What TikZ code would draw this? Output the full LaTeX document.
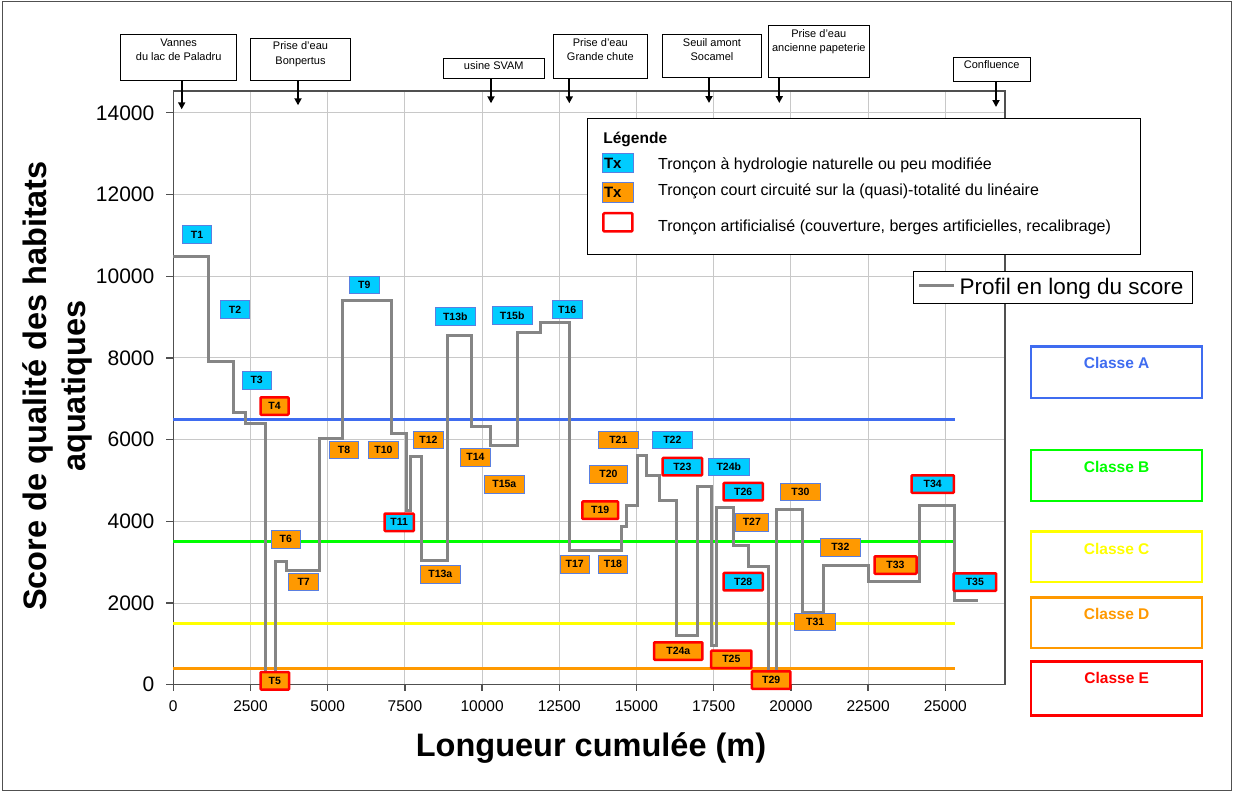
\documentclass[tikz,border=0pt]{standalone}
\usepackage{fontspec}
\setmainfont{Liberation Sans}
\usetikzlibrary{arrows.meta}
\definecolor{cyanT}{HTML}{00CCFF}
\definecolor{orT}{HTML}{FF9900}
\definecolor{bdT}{HTML}{5A7FE0}
\definecolor{grd}{HTML}{C8C8C8}
\definecolor{prof}{HTML}{858585}
\definecolor{axc}{HTML}{505050}
\definecolor{clA}{HTML}{3F6CF0}
\definecolor{clB}{HTML}{00FF00}
\definecolor{clC}{HTML}{FFFF00}
\definecolor{clD}{HTML}{FF9900}
\definecolor{clE}{HTML}{FF0000}
\tikzset{
 gridl/.style={draw=grd, line width=1pt},
 axl/.style={draw=axc, line width=1.3pt},
 clsline/.style={line width=3pt},
 profline/.style={draw=prof, line width=3pt, line join=miter},
 seg/.style={minimum height=17.5pt, inner sep=0pt, font=\fontsize{10.5}{12}\selectfont\bfseries, draw=bdT, line width=0.8pt},
 segC/.style={seg, fill=cyanT},
 segO/.style={seg, fill=orT},
 artif/.style={draw=red, line width=2.5pt, rounded corners=0.8pt},
 annot/.style={draw=black, line width=1pt, inner sep=0pt},
 annotxt/.style={font=\fontsize{11}{14.3}\selectfont, align=center, inner sep=0pt},
 arr/.style={draw=black, line width=2pt, -{Triangle[length=7pt,width=7pt]}},
 clsbox/.style={line width=2.5pt, minimum width=171pt, inner sep=0pt},
 clstxt/.style={font=\fontsize{15.5}{18}\selectfont\bfseries, inner sep=0pt, anchor=north, yshift=-12.3pt},
 ytl/.style={font=\fontsize{21}{24}\selectfont, inner sep=0pt, anchor=east},
 xtl/.style={font=\fontsize{15.5}{18}\selectfont, inner sep=0pt},
 legtxt/.style={font=\fontsize{16}{19}\selectfont, inner sep=0pt, anchor=west},
 legtx/.style={draw=bdT, line width=0.8pt, minimum height=19.4pt, text width=27.4pt, align=left, inner xsep=1.5pt, inner ysep=0pt, font=\fontsize{15}{18}\selectfont\bfseries},
}
\begin{document}
\begin{tikzpicture}[x=1pt,y=-1pt]
\useasboundingbox (0,0) rectangle (1234,792);
\draw[draw=axc, line width=1.5pt] (2.5,1.5) rectangle (1231.5,790.5);
% grid
\foreach \gx in {250.5,327.7,404.9,482.1,559.3,636.5,713.7,790.9,868.1,945.3}
  \draw[gridl] (\gx,91) -- (\gx,684.7);
\foreach \gy in {603,521.3,439.6,357.9,276.2,194.5,112.8}
  \draw[gridl] (173.3,\gy) -- (1005,\gy);
% frame and axes
\draw[axl] (173.3,91) -- (1005,91) -- (1005,684.7);
\draw[axl] (173.3,91) -- (173.3,684.7) -- (1005,684.7);
\foreach \v/\gy in {0/684.7,2000/603,4000/521.3,6000/439.6,8000/357.9,10000/276.2,12000/194.5,14000/112.8}{
  \draw[axl] (166,\gy) -- (173.3,\gy);
  \node[ytl] (yl\v) at (154.5,\gy) {\v};
}
\foreach \v/\gx in {0/173.3,2500/250.5,5000/327.7,7500/404.9,10000/482.1,12500/559.3,15000/636.5,17500/713.7,20000/790.9,22500/868.1,25000/945.3}{
  \draw[axl] (\gx,684.7) -- (\gx,690.5);
  \node[xtl] (xl\v) at (\gx,706.5) {\v};
}
% axis titles
\node[rotate=90, align=center, font=\fontsize{32.5}{39}\selectfont\bfseries] (ytitle) at (57,386) {Score de qualité des habitats\\aquatiques};
\node[font=\fontsize{32.5}{38}\selectfont\bfseries] (xtitle) at (591,748) {Longueur cumulée (m)};
% class lines
\draw[clsline, draw=clA] (173.3,419.2) -- (955,419.2);
\draw[clsline, draw=clB] (173.3,541.7) -- (955,541.7);
\draw[clsline, draw=clC] (173.3,623.4) -- (955,623.4);
\draw[clsline, draw=clD] (173.3,668.4) -- (955,668.4);
% profile
\draw[profline] (173.3,256) -- (208.3,256) -- (208.3,361.7) -- (233.3,361.7) -- (233.3,412) -- (245.3,412) -- (245.3,423.7) -- (265.7,423.7) -- (265.7,676) -- (275.7,676) -- (275.7,561) -- (286.7,561) -- (286.7,570.7) -- (319.3,570.7) -- (319.3,438.3) -- (342.3,438.3) -- (342.3,300.3) -- (391,300.3) -- (391,433) -- (406.7,433) -- (406.7,510) -- (410.5,510) -- (410.5,456.7) -- (421,456.7) -- (421,560.7) -- (447.3,560.7) -- (447.3,335) -- (471.7,335) -- (471.7,426.7) -- (490,426.7) -- (490,445) -- (517.3,445) -- (517.3,332.3) -- (540,332.3) -- (540,322.7) -- (569,322.7) -- (569,550) -- (621.7,550) -- (621.7,526.7) -- (626,526.7) -- (626,505.7) -- (637.3,505.7) -- (637.3,455) -- (646.7,455) -- (646.7,475.7) -- (659,475.7) -- (659,500) -- (676,500) -- (676,635) -- (697.7,635) -- (697.7,486) -- (711.7,486) -- (711.7,645.7) -- (716.7,645.7) -- (716.7,507.7) -- (733.3,507.7) -- (733.3,545) -- (748.3,545) -- (748.3,566.7) -- (768.3,566.7) -- (768.3,676) -- (776.7,676) -- (776.7,509.3) -- (802.7,509.3) -- (802.7,612.7) -- (823.3,612.7) -- (823.3,565.7) -- (868.3,565.7) -- (868.3,581.7) -- (919.3,581.7) -- (919.3,505) -- (954.3,505) -- (954.3,600) -- (977.7,600);
% section labels
\node[segC, minimum width=29pt] (T1) at (197,234.5) {T1};
\node[segC, minimum width=29.4pt] (T2) at (235,309.5) {T2};
\node[segC, minimum width=29.3pt] (T3) at (256.7,380.3) {T3};
\node[segO, artif, minimum width=28pt] (T4) at (274.5,406) {T4};
\node[segO, artif, minimum width=28.5pt] (T5) at (274.8,680.8) {T5};
\node[segO, minimum width=29pt] (T6) at (285.8,539.3) {T6};
\node[segO, minimum width=30pt] (T7) at (303.7,581.7) {T7};
\node[segO, minimum width=29.4pt] (T8) at (344,449.7) {T8};
\node[segC, minimum width=30pt] (T9) at (364.3,285) {T9};
\node[segO, minimum width=29.6pt] (T10) at (383.5,449.7) {T10};
\node[segC, artif, minimum width=29.2pt] (T11) at (399.2,522.3) {T11};
\node[segO, minimum width=29.6pt] (T12) at (428.5,440) {T12};
\node[segO, minimum width=40.7pt] (T13a) at (440.3,574.2) {T13a};
\node[segC, minimum width=40pt] (T13b) at (455.3,316.3) {T13b};
\node[segO, minimum width=29.6pt] (T14) at (475.5,457.2) {T14};
\node[segO, minimum width=40pt] (T15a) at (504.3,484.2) {T15a};
\node[segC, minimum width=40.3pt] (T15b) at (512.2,315.5) {T15b};
\node[segC, minimum width=29.7pt] (T16) at (567.2,309.5) {T16};
\node[segO, minimum width=29.3pt] (T17) at (574.7,564.2) {T17};
\node[segO, minimum width=29.4pt] (T18) at (613,564.2) {T18};
\node[segO, artif, minimum width=35.8pt] (T19) at (600.2,510.2) {T19};
\node[segO, minimum width=38.4pt] (T20) at (608.5,474.3) {T20};
\node[segO, minimum width=40pt] (T21) at (618.3,439.8) {T21};
\node[segC, minimum width=40pt] (T22) at (672.3,439.8) {T22};
\node[segC, artif, minimum width=39.5pt] (T23) at (682.3,466.7) {T23};
\node[segO, artif, minimum width=48.2pt] (T24a) at (678.3,651) {T24a};
\node[segC, minimum width=41pt] (T24b) at (728.8,466.8) {T24b};
\node[segO, artif, minimum width=40.2pt] (T25) at (731.3,659.3) {T25};
\node[segC, artif, minimum width=39.2pt] (T26) at (743.2,491.7) {T26};
\node[segO, minimum width=33pt] (T27) at (751.8,522.2) {T27};
\node[segC, artif, minimum width=39.2pt] (T28) at (743.2,581.7) {T28};
\node[segO, artif, minimum width=38.5pt] (T29) at (771.2,680) {T29};
\node[segO, minimum width=40.4pt] (T30) at (800.5,491.8) {T30};
\node[segO, minimum width=41pt] (T31) at (815.2,621.8) {T31};
\node[segO, minimum width=39.3pt] (T32) at (840.3,547.2) {T32};
\node[segO, artif, minimum width=42pt] (T33) at (895.5,565) {T33};
\node[segC, artif, minimum width=42.2pt] (T34) at (932.7,484) {T34};
\node[segC, artif, minimum width=42.5pt] (T35) at (974.8,582) {T35};
% annotation boxes
\node[annot, minimum width=116pt, minimum height=45.7pt, label={[annotxt, anchor=north, yshift=-4pt]north:{Vannes\\du lac de Paladru}}] (aV) at (178.7,57.85) {};
\node[annot, minimum width=100.4pt, minimum height=42.4pt, label={[annotxt, anchor=north, yshift=-4pt]north:{Prise d'eau\\Bonpertus}}] (aB) at (300.5,59.5) {};
\node[annot, minimum width=101pt, minimum height=20pt, label={[annotxt, anchor=north, yshift=-4pt]north:{usine SVAM}}] (aS) at (493.8,68.3) {};
\node[annot, minimum width=94pt, minimum height=43.3pt, label={[annotxt, anchor=north, yshift=-4pt]north:{Prise d'eau\\Grande chute}}] (aG) at (600.3,56.65) {};
\node[annot, minimum width=99.4pt, minimum height=42.7pt, label={[annotxt, anchor=north, yshift=-4pt]north:{Seuil amont\\Socamel}}] (aSo) at (712,56.35) {};
\node[annot, minimum width=101pt, minimum height=51.3pt, label={[annotxt, anchor=north, yshift=-4pt]north:{Prise d'eau\\ancienne papeterie}}] (aP) at (818.8,51.65) {};
\node[annot, minimum width=76.7pt, minimum height=23.7pt, label={[annotxt, anchor=north, yshift=-4pt]north:{Confluence}}] (aC) at (991.65,69.15) {};
\coordinate (vV) at (181.7,109.3);
\coordinate (vB) at (298,105.3);
\coordinate (vS) at (491,103.3);
\coordinate (vG) at (569.3,103.3);
\coordinate (vSo) at (709,103);
\coordinate (vP) at (779.3,103);
\coordinate (vC) at (996,107);
\draw[arr] (aV.south -| vV) -- (vV);
\draw[arr] (aB.south -| vB) -- (vB);
\draw[arr] (aS.south -| vS) -- (vS);
\draw[arr] (aG.south -| vG) -- (vG);
\draw[arr] (aSo.south -| vSo) -- (vSo);
\draw[arr] (aP.south -| vP) -- (vP);
\draw[arr] (aC.south -| vC) -- (vC);
% legend
\node[draw=black, fill=white, line width=1pt, anchor=north west, minimum width=553pt, minimum height=136.5pt, inner sep=0pt] (leg) at (587,117.5) {};
\node[anchor=west, inner sep=0pt, font=\fontsize{15.5}{18}\selectfont\bfseries] (legtitle) at (603.2,139.3) {Légende};
\node[legtx, fill=cyanT] (legC) at (617.7,163) {Tx};
\node[legtx, fill=orT] (legO) at (617.7,192.3) {Tx};
\node[draw=red, line width=2.5pt, rounded corners=1pt, minimum width=29pt, minimum height=18.3pt, inner sep=0pt] (legR) at (617.9,222.3) {};
\node[legtxt] (legt1) at (657.9,165) {Tronçon à hydrologie naturelle ou peu modifiée};
\node[legtxt] (legt2) at (657.9,191) {Tronçon court circuité sur la (quasi)-totalité du linéaire};
\node[legtxt] (legt3) at (657.9,227.7) {Tronçon artificialisé (couverture, berges artificielles, recalibrage)};
% profile legend
\node[draw=black, fill=white, line width=1pt, anchor=north west, minimum width=279pt, minimum height=32pt, inner sep=0pt] (pleg) at (913.3,271.2) {};
\coordinate (plA) at (919.3,285.7);
\coordinate (plB) at (954,285.7);
\draw[profline] (plA) -- (plB);
\node[anchor=west, inner sep=0pt, font=\fontsize{22.5}{26}\selectfont] (plegtxt) at (959.3,288.3) {Profil en long du score};
% class boxes
\node[clsbox, draw=clA, minimum height=51.5pt, label={[clstxt, text=clA]north:Classe A}] (cA) at (1116.7,372) {};
\node[clsbox, draw=clB, minimum height=51pt, label={[clstxt, text=clB]north:Classe B}] (cB) at (1116.7,475.7) {};
\node[clsbox, draw=clC, minimum height=50.5pt, label={[clstxt, text=clC]north:Classe C}] (cC) at (1116.7,556.8) {};
\node[clsbox, draw=clD, minimum height=50.5pt, label={[clstxt, text=clD]north:Classe D}] (cD) at (1116.7,622.5) {};
\node[clsbox, draw=clE, minimum height=54pt, label={[clstxt, text=clE]north:Classe E}] (cE) at (1116.7,688.3) {};
\end{tikzpicture}
\end{document}
